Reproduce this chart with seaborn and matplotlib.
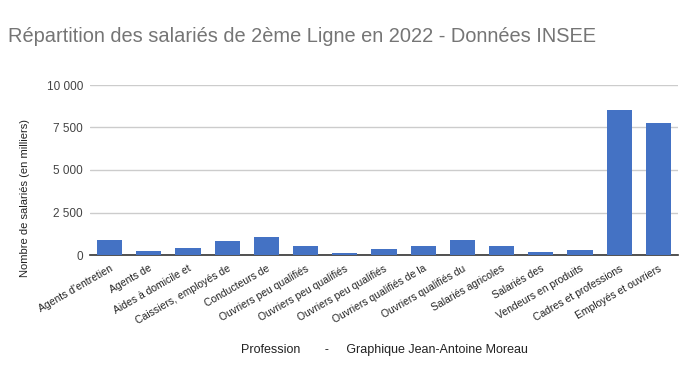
import matplotlib
matplotlib.use("Agg")
import matplotlib.pyplot as plt
import seaborn as sns
import pandas as pd
from matplotlib.ticker import FuncFormatter

labels = ["Agents d'entretien", "Agents de", "Aides à domicile et", "Caissiers, employés de",
          "Conducteurs de", "Ouvriers peu qualifiés", "Ouvriers peu qualifiés",
          "Ouvriers peu qualifiés", "Ouvriers qualifiés de la", "Ouvriers qualifiés du",
          "Salariés agricoles", "Salariés des", "Vendeurs en produits",
          "Cadres et professions", "Employés et ouvriers"]
values = [884, 236, 413, 825, 1061, 530, 140, 354, 530, 884, 530, 177, 295, 8546, 7780]
yticks = [0, 2500, 5000, 7500, 10000]

sns.set_theme(style="white")
plt.rcParams['font.family'] = ['Liberation Sans', 'DejaVu Sans']

df = pd.DataFrame({"idx": list(range(len(values))), "val": values})

fig = plt.figure(figsize=(6.94, 3.71), dpi=100)
ax = fig.add_axes([90/694, 1-255/371, (678-90)/694, (255-85)/371])
sns.barplot(data=df, x="idx", y="val", color="#4472C4", saturation=1, width=0.64,
            linewidth=0, edgecolor="none", ax=ax)
for p in ax.patches:
    p.set_zorder(3)

ax.set_ylim(0, 10000)
ax.set_yticks(yticks)
ax.yaxis.set_major_formatter(FuncFormatter(lambda v, p: f"{int(v):,}".replace(",", " ")))
ax.grid(axis="y", color="#cccccc", linewidth=1)
ax.set_axisbelow(True)
for s in ["top", "right", "left"]:
    ax.spines[s].set_visible(False)
ax.spines["bottom"].set_color("#333333")
ax.spines["bottom"].set_linewidth(1.2)
ax.spines["bottom"].set_zorder(2)
ax.tick_params(axis="y", length=0, pad=5, labelsize=8.5, labelcolor="#444444")
ax.tick_params(axis="x", length=0, pad=6)
ax.set_xticks(range(len(labels)))
ax.set_xticklabels(labels, rotation=30, ha="right", va="top", rotation_mode="anchor",
                   fontsize=7.5, color="#222222")
ax.set_xlim(-0.5, len(values) - 0.5)

ax.set_ylabel("")
fig.text(25/694, 1-198/371, "Nombre de salariés (en milliers)", fontsize=8, color="#222222",
         rotation=90, ha="center", va="center")
ax.set_xlabel("Profession       -     Graphique Jean-Antoine Moreau", fontsize=9,
              color="#222222", labelpad=0)
ax.xaxis.set_label_coords(0.5, -(344 - 255) / 170)

fig.text(8/694, 1-42/371, "Répartition des salariés de 2ème Ligne en 2022 - Données INSEE",
         fontsize=14.4, color="#757575", va="baseline", ha="left")

fig.savefig("out.png", dpi=100)
